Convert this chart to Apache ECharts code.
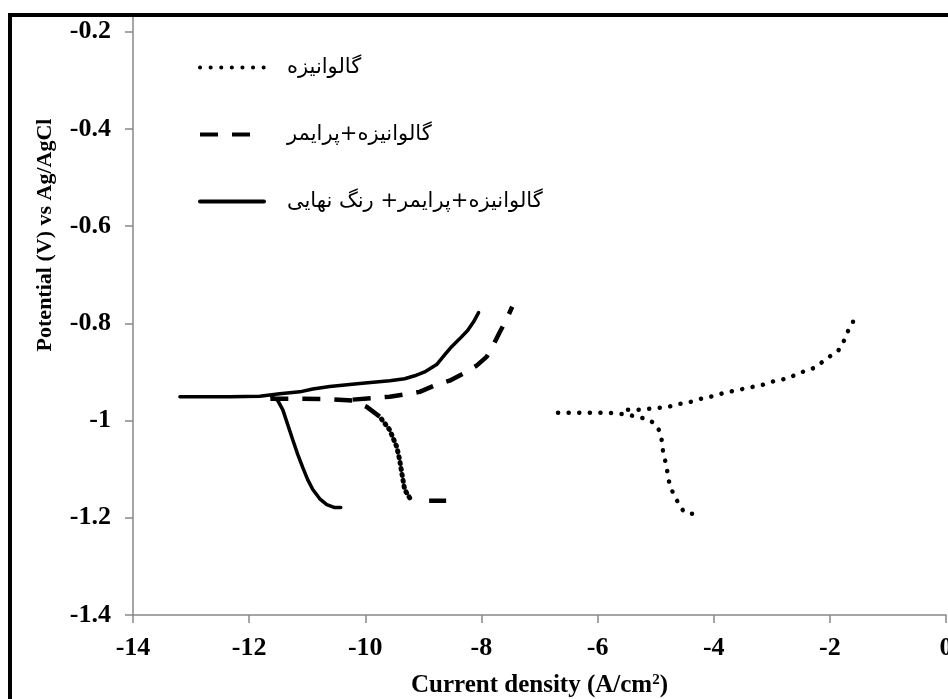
<!DOCTYPE html>
<html>
<head>
<meta charset="utf-8">
<script src="https://cdn.jsdelivr.net/npm/echarts@6/dist/echarts.min.js"></script>
<style>
  html, body { margin: 0; padding: 0; background: #fff; }
  #chart { width: 948px; height: 699px; }
</style>
</head>
<body>
<div id="chart"></div>
<script>
// Polarization curves: log current density (A/cm2) vs potential (V vs Ag/AgCl)
const seriesNames = ['گالوانیزه', 'گالوانیزه+پرایمر', 'گالوانیزه+پرایمر+ رنگ نهایی'];
const yTicks = [-1.4, -1.2, -1, -0.8, -0.6, -0.4, -0.2];

// Galvanized: anodic and cathodic branches [logI, E]
const galvAnodic = [
  [-5.476, -0.978], [-5.304, -0.978], [-5.131, -0.976], [-4.959, -0.974], [-4.787, -0.972],
  [-4.615, -0.966], [-4.460, -0.964], [-4.305, -0.958], [-4.150, -0.953], [-3.978, -0.949],
  [-3.823, -0.943], [-3.651, -0.939], [-3.495, -0.935], [-3.340, -0.931], [-3.168, -0.927],
  [-2.996, -0.920], [-2.841, -0.916], [-2.686, -0.912], [-2.548, -0.902], [-2.393, -0.898],
  [-2.238, -0.890], [-2.083, -0.875], [-1.963, -0.865], [-1.859, -0.857], [-1.773, -0.840],
  [-1.722, -0.826], [-1.670, -0.811], [-1.601, -0.797]
];
const galvCathodic = [
  [-6.681, -0.984], [-6.320, -0.984], [-5.993, -0.984], [-5.803, -0.984], [-5.631, -0.986],
  [-5.476, -0.988], [-5.304, -0.993], [-5.131, -0.997], [-5.011, -1.007], [-4.925, -1.023],
  [-4.890, -1.044], [-4.873, -1.063], [-4.839, -1.081], [-4.804, -1.100], [-4.787, -1.118],
  [-4.753, -1.132], [-4.701, -1.149], [-4.649, -1.161], [-4.580, -1.176], [-4.512, -1.188],
  [-4.374, -1.192]
];

// Galvanized + primer
const primerAnodic = [
  [-10.216, -0.957], [-9.580, -0.951], [-9.236, -0.945], [-9.064, -0.941], [-8.771, -0.926],
  [-8.548, -0.918], [-8.324, -0.904], [-8.083, -0.887], [-7.911, -0.869], [-7.808, -0.848],
  [-7.688, -0.819], [-7.568, -0.792], [-7.470, -0.766]
];
const primerCathodicUpper = [
  [-9.752, -0.992], [-9.975, -0.972], [-10.216, -0.959], [-10.612, -0.956],
  [-11.128, -0.955], [-11.644, -0.955]
];
const primerCathodicSteep = [
  [-9.236, -1.159], [-9.322, -1.142], [-9.373, -1.107], [-9.408, -1.081],
  [-9.459, -1.054], [-9.580, -1.019], [-9.752, -0.992]
];
const primerCathodicTail = [
  [-9.236, -1.159], [-9.098, -1.165], [-8.599, -1.165]
];

// Galvanized + primer + topcoat
const topcoatAnodic = [
  [-13.192, -0.951], [-12.332, -0.951], [-11.816, -0.950], [-11.472, -0.945], [-11.128, -0.941],
  [-10.904, -0.935], [-10.612, -0.930], [-10.096, -0.924], [-9.580, -0.918], [-9.322, -0.914],
  [-9.150, -0.908], [-8.978, -0.900], [-8.771, -0.885], [-8.634, -0.865], [-8.513, -0.848],
  [-8.376, -0.832], [-8.238, -0.815], [-8.135, -0.797], [-8.049, -0.778]
];
const topcoatCathodic = [
  [-11.609, -0.951], [-11.506, -0.959], [-11.420, -0.978], [-11.334, -1.009], [-11.248, -1.040],
  [-11.162, -1.070], [-11.076, -1.097], [-10.990, -1.122], [-10.904, -1.142], [-10.784, -1.161],
  [-10.663, -1.173], [-10.526, -1.179], [-10.422, -1.179]
];

const serif = '"Liberation Serif", "Times New Roman", serif';
const DOT_STEP = 10.6;
const dotStyle = { color: '#000', width: 4.5, type: [0.1, DOT_STEP - 0.1], cap: 'round' };
const dashStyle = { color: '#000', width: 4.5, type: [18, 14], cap: 'butt' };
const solidStyle = { color: '#000', width: 3.5, type: 'solid', cap: 'round', join: 'round' };

function branch(name, data, lineStyle, z) {
  return {
    name: name,
    type: 'line',
    data: data,
    showSymbol: false,
    symbol: 'none',
    smooth: false,
    lineStyle: lineStyle,
    itemStyle: { color: '#000' },
    z: z || 2,
    silent: true
  };
}

const chart = echarts.init(document.getElementById('chart'), null, { renderer: 'canvas' });
chart.setOption({
  animation: false,
  backgroundColor: '#fff',
  grid: { left: 133, right: 2, top: 17, bottom: 84, containLabel: false, outerBoundsMode: 'none' },
  xAxis: {
    type: 'value',
    min: -14, max: 0, interval: 2,
    name: 'Current density (A/cm{sup|2})',
    nameLocation: 'middle',
    nameGap: 58,
    nameTextStyle: {
      fontFamily: serif, fontWeight: 'bold', fontSize: 25, color: '#000',
      rich: { sup: { fontFamily: serif, fontWeight: 'bold', fontSize: 15, color: '#000', verticalAlign: 'top', padding: [0, 0, 9, 0] } }
    },
    axisLine: { show: true, onZero: false, lineStyle: { color: '#888', width: 1.5 } },
    axisTick: { show: true, inside: false, length: 8, lineStyle: { color: '#888', width: 1.5 } },
    axisLabel: { fontFamily: serif, fontWeight: 'bold', fontSize: 26, color: '#000', margin: 20 },
    splitLine: { show: false }
  },
  yAxis: {
    type: 'value',
    min: -1.4, max: -0.17,
    axisLine: { show: true, onZero: false, lineStyle: { color: '#888', width: 1.5 } },
    axisTick: { show: true, inside: false, length: 8, customValues: yTicks, lineStyle: { color: '#888', width: 1.5 } },
    axisLabel: {
      fontFamily: serif, fontWeight: 'bold', fontSize: 26, color: '#000', margin: 22,
      customValues: yTicks,
      formatter: function (v) { return String(Math.round(v * 10) / 10); }
    },
    splitLine: { show: false }
  },
  legend: {
    orient: 'vertical',
    left: 198,
    top: 57,
    padding: 0,
    itemWidth: 64,
    itemHeight: 20,
    itemGap: 46,
    data: seriesNames,
    textStyle: { fontFamily: '"DejaVu Sans", sans-serif', fontSize: 21, color: '#000', padding: [0, 0, 6, 18] },
    itemStyle: { opacity: 0 },
    lineStyle: { width: 4, type: 'inherit', cap: 'inherit', opacity: 1 },
    selectedMode: false
  },
  graphic: [
    { type: 'rect', shape: { x: 8, y: 13, width: 940, height: 4 }, style: { fill: '#000' }, z: 100 },
    { type: 'rect', shape: { x: 8, y: 13, width: 4, height: 686 }, style: { fill: '#000' }, z: 100 },
    {
      type: 'text', x: 45, y: 235, rotation: Math.PI / 2,
      style: {
        text: 'Potential (V) vs Ag/AgCl', fill: '#000',
        font: 'bold 22px "Liberation Serif", serif',
        textAlign: 'center', textVerticalAlign: 'middle'
      },
      z: 100
    }
  ],
  series: [
    branch(seriesNames[0], galvAnodic, dotStyle),
    branch(seriesNames[0], galvCathodic, dotStyle),
    branch(seriesNames[1], primerAnodic, dashStyle),
    branch(seriesNames[1], primerCathodicUpper, dashStyle),
    branch(seriesNames[1], primerCathodicSteep, { color: '#000', width: 5, type: [1, 5], cap: 'round' }),
    branch(seriesNames[1], primerCathodicTail, { color: '#000', width: 4.5, type: [17, 20], dashOffset: 17, cap: 'butt' }),
    branch(seriesNames[2], topcoatAnodic, solidStyle, 3),
    branch(seriesNames[2], topcoatCathodic, solidStyle, 3)
  ]
});

// Fit the round-dot spacing so each dotted branch begins and ends on a dot
function pixelLength(data) {
  let len = 0;
  for (let i = 1; i < data.length; i++) {
    const a = chart.convertToPixel({ gridIndex: 0 }, data[i - 1]);
    const b = chart.convertToPixel({ gridIndex: 0 }, data[i]);
    len += Math.hypot(b[0] - a[0], b[1] - a[1]);
  }
  return len;
}
function fittedDots(data) {
  const len = pixelLength(data);
  const step = len / Math.max(1, Math.round(len / DOT_STEP));
  return Object.assign({}, dotStyle, { type: [0.1, step - 0.1] });
}
chart.setOption({
  series: [
    { lineStyle: fittedDots(galvAnodic) },
    { lineStyle: fittedDots(galvCathodic) }
  ]
});
</script>
</body>
</html>
